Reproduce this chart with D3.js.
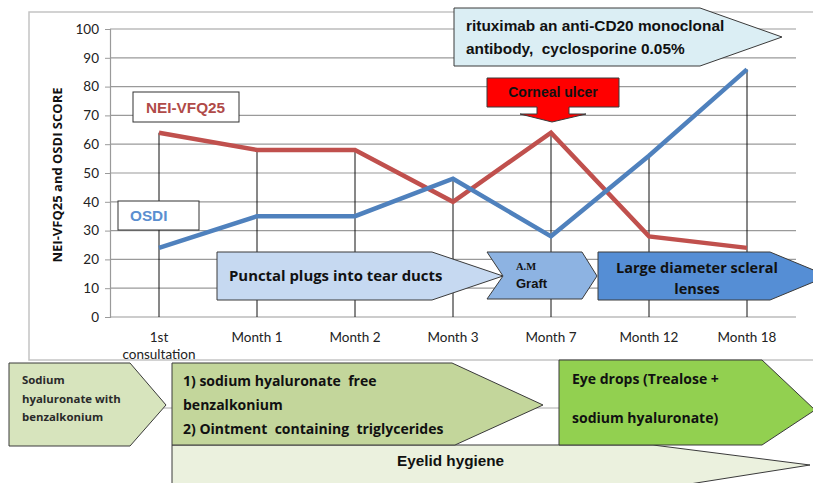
<!DOCTYPE html>
<html>
<head>
<meta charset="utf-8">
<script src="https://cdn.jsdelivr.net/npm/d3@7"></script>
<style>
body { margin: 0; background: #fff; }
svg { display: block; }
svg text { white-space: pre; }
</style>
</head>
<body>
<div id="chart"></div>
<script>
var categories = ["1st consultation", "Month 1", "Month 2", "Month 3", "Month 7", "Month 12", "Month 18"];
var neiValues = [64, 58, 58, 40, 64, 28, 24];
var osdiValues = [24, 35, 35, 48, 28, 56, 86];
var yTicks = [0, 10, 20, 30, 40, 50, 60, 70, 80, 90, 100];

var calibri = "Lato, 'Open Sans', sans-serif",
	calibriBold = "'Open Sans', Lato, sans-serif",
	arial = "'Liberation Sans', Arial, sans-serif";

var width = 813,
	height = 483,
	plot = {left: 110, right: 796, top: 29, bottom: 317};

var svg = d3.select("#chart")
	.append("svg")
	.attr("width", width)
	.attr("height", height);

var x = d3.scalePoint().domain(categories).range([plot.left, plot.right]).padding(0.5);
var y = d3.scaleLinear().domain([0, 100]).range([plot.bottom, plot.top]);

// outer chart frame
svg.append("rect")
	.attr("x", 29).attr("y", 12)
	.attr("width", 800).attr("height", 348)
	.attr("fill", "none")
	.attr("stroke", "#c4c4c4")
	.attr("stroke-width", 1.5);

// grid lines
svg.append("g")
	.selectAll("line")
	.data(yTicks)
	.join("line")
	.attr("x1", plot.left).attr("x2", plot.right)
	.attr("y1", d => y(d)).attr("y2", d => y(d))
	.attr("stroke", "#9a9a9a")
	.attr("stroke-width", 1.2);

// y axis
var yAxis = svg.append("g")
	.attr("transform", "translate(" + plot.left + ",0)")
	.call(d3.axisLeft(y).tickValues(yTicks).tickSize(5).tickPadding(6));
yAxis.select(".domain").attr("stroke", "#9a9a9a").attr("stroke-width", 1.2);
yAxis.selectAll(".tick line").attr("stroke", "#9a9a9a");
yAxis.selectAll("text")
	.attr("font-family", calibri)
	.attr("font-size", 13.5)
	.attr("fill", "#222");

svg.append("text")
	.attr("transform", "translate(62,175) rotate(-90)")
	.attr("text-anchor", "middle")
	.attr("font-family", calibriBold)
	.attr("font-weight", "bold")
	.attr("font-size", 13)
	.attr("fill", "#111")
	.text("NEI-VFQ25 and OSDI SCORE");

// category labels
var xLabels = svg.append("g");
categories.forEach(function(c) {
	var parts = c === "1st consultation" ? ["1st", "consultation"] : [c];
	var t = xLabels.append("text")
		.attr("x", x(c))
		.attr("y", 342)
		.attr("text-anchor", "middle")
		.attr("font-family", calibri)
		.attr("font-size", 13.5)
		.attr("fill", "#222");
	parts.forEach(function(p, i) {
		t.append("tspan").attr("x", x(c)).attr("dy", i ? 17 : 0).text(p);
	});
});

// drop lines
svg.append("g")
	.selectAll("line")
	.data(categories)
	.join("line")
	.attr("x1", d => x(d)).attr("x2", d => x(d))
	.attr("y1", (d, i) => y(Math.max(neiValues[i], osdiValues[i])))
	.attr("y2", y(0))
	.attr("stroke", "#111")
	.attr("stroke-width", 1);

// series lines
var line = d3.line()
	.x((d, i) => x(categories[i]))
	.y(d => y(d));

svg.append("path")
	.datum(neiValues)
	.attr("d", line)
	.attr("fill", "none")
	.attr("stroke", "#c0504d")
	.attr("stroke-width", 4.5);

svg.append("path")
	.datum(osdiValues)
	.attr("d", line)
	.attr("fill", "none")
	.attr("stroke", "#4f81bd")
	.attr("stroke-width", 4.5);

// legend boxes
function labelBox(bx, by, bw, bh, text, color, tx) {
	svg.append("rect")
		.attr("x", bx).attr("y", by)
		.attr("width", bw).attr("height", bh)
		.attr("fill", "#fff")
		.attr("stroke", "#333")
		.attr("stroke-width", 1);
	svg.append("text")
		.attr("x", tx).attr("y", by + bh / 2 + 5.5)
		.attr("font-family", arial)
		.attr("font-weight", "bold")
		.attr("font-size", 15.3)
		.attr("fill", color)
		.text(text);
}
labelBox(133, 92, 106, 30, "NEI-VFQ25", "#b04a48", 146);
labelBox(118, 201, 81, 29, "OSDI", "#5b8fd0", 130);

// shapes
function shape(points, fill) {
	return svg.append("polygon")
		.attr("points", points.map(p => p.join(",")).join(" "))
		.attr("fill", fill)
		.attr("stroke", "#3a3a3a")
		.attr("stroke-width", 1);
}

function lines(tx, baselines, texts, font, size, anchor, color) {
	texts.forEach(function(t, i) {
		svg.append("text")
			.attr("x", tx).attr("y", baselines[i])
			.attr("text-anchor", anchor || "start")
			.attr("font-family", font)
			.attr("font-weight", "bold")
			.attr("font-size", size)
			.attr("fill", color || "#111")
			.text(t);
	});
}

// rituximab callout
shape([[454, 8], [700, 8], [782, 37], [700, 66], [454, 66]], "#dbeef4");
lines(466, [31, 54], ["rituximab an anti-CD20 monoclonal", "antibody,  cyclosporine 0.05%"], arial, 15.4);

// corneal ulcer arrow
shape([[487, 78], [619, 78], [619, 107], [569, 107], [569, 114], [586, 114],
	[552, 122], [520, 114], [537, 114], [537, 107], [487, 107]], "#ff0000");
lines(553, [97], ["Corneal ulcer"], arial, 14, "middle");

// punctal plugs
shape([[217, 252], [432, 252], [503, 276], [432, 300], [217, 300]], "#c6d9f1");
lines(229, [281], ["Punctal plugs into tear ducts"], calibriBold, 14.9);

// A.M graft chevron
shape([[487, 252], [582, 252], [597, 276], [582, 299], [487, 299], [503, 276]], "#8db3e2");
lines(516, [270], ["A.M"], "'Liberation Serif', serif", 10.5);
lines(516, [288], ["Graft"], arial, 13);

// scleral lenses
shape([[598, 252], [770, 252], [828, 276], [770, 300], [598, 300]], "#558ed5");
lines(697, [273, 294], ["Large diameter scleral", "lenses"], calibriBold, 14.5, "middle");

// bottom treatment row
svg.append("line")
	.attr("x1", 160).attr("x2", 562)
	.attr("y1", 408).attr("y2", 408)
	.attr("stroke", "#aaa");

shape([[172, 445], [653, 445], [810, 465], [677, 486], [172, 486]], "#ebf1de");
lines(397, [466], ["Eyelid hygiene"], arial, 15.3);

shape([[9, 363], [130, 363], [166, 405], [130, 446], [9, 446]], "#d7e4bd");
lines(22, [384, 403, 421], ["Sodium", "hyaluronate with", "benzalkonium"], calibriBold, 11.4, "start", "#2a2a2a");

shape([[172, 363], [452, 363], [543, 405], [455, 445], [172, 445]], "#c3d69b");
lines(183, [386, 410, 434], ["1) sodium hyaluronate  free", "benzalkonium", "2) Ointment  containing  triglycerides"], calibriBold, 14, "start", "#111");

shape([[559, 360], [762, 360], [815, 410], [762, 445], [559, 445]], "#92d050");
lines(572, [384, 423], ["Eye drops (Trealose +", "sodium hyaluronate)"], calibriBold, 14, "start", "#111");
</script>
</body>
</html>
